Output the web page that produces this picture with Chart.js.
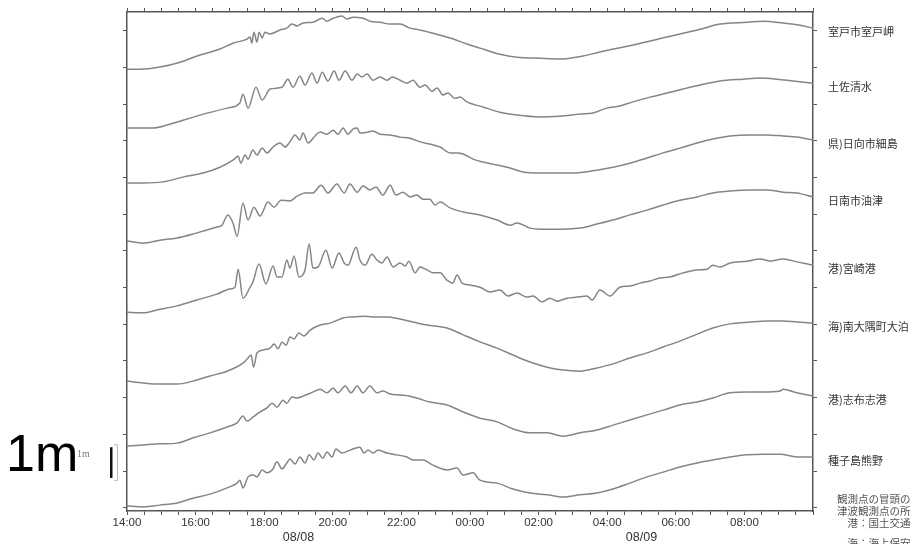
<!DOCTYPE html>
<html>
<head>
<meta charset="utf-8">
<script src="https://cdn.jsdelivr.net/npm/chart.js@4.4.1/dist/chart.umd.min.js"></script>
<style>
  html, body { margin: 0; padding: 0; background: #fff; overflow: hidden; }
  canvas { display: block; }
</style>
</head>
<body>
<canvas id="tide" width="910" height="544"></canvas>
<script>
// time = hours after 08/08 14:00, level = metres on the stacked plot (traces offset)
const stationNames = ['室戸市室戸岬', '土佐清水', '県)日向市細島', '日南市油津', '港)宮崎港', '海)南大隅町大泊', '港)志布志港', '種子島熊野'];
const timeLabels = ['14:00', '16:00', '18:00', '20:00', '22:00', '00:00', '02:00', '04:00', '06:00', '08:00'];
const dayLabels = ['08/08', '08/09'];
const dayBounds = [0, 10, 20];
const notes = ['観測点の冒頭の記号は', '津波観測点の所属機関', '　港：国土交通省港湾局', '　海：海上保安庁'];

const muroto = [[0,11.95],[0.38,11.95],[0.96,12.01],[1.55,12.14],[2.13,12.34],[2.71,12.50],[3.09,12.66],[3.50,12.77],[3.59,12.83],[3.64,12.66],[3.70,12.96],[3.79,12.69],[3.85,12.96],[3.94,12.80],[4.02,12.96],[4.17,12.91],[4.46,13.02],[4.66,13.07],[4.81,13.18],[4.96,13.13],[5.13,13.21],[5.42,13.23],[5.69,13.34],[5.83,13.26],[6.01,13.34],[6.27,13.40],[6.41,13.32],[6.59,13.37],[6.88,13.34],[7.08,13.26],[7.38,13.23],[7.67,13.18],[7.96,13.18],[8.25,13.07],[8.54,13.02],[8.92,12.93],[9.42,12.80],[9.91,12.64],[10.38,12.50],[10.87,12.36],[11.37,12.28],[12.04,12.25],[12.62,12.23],[13.29,12.31],[13.79,12.42],[14.75,12.61],[15.74,12.83],[16.71,13.04],[17.29,13.18],[18.08,13.23],[18.54,13.26],[19.13,13.21],[19.62,13.15],[20,13.07]];
const tosashimizu = [[0,10.35],[0.76,10.35],[1.17,10.43],[2.13,10.70],[2.92,10.89],[3.29,11.03],[3.38,11.27],[3.53,10.89],[3.76,11.46],[3.94,11.11],[4.17,11.41],[4.52,11.46],[4.69,11.68],[4.84,11.46],[5.04,11.76],[5.19,11.52],[5.39,11.85],[5.54,11.57],[5.69,11.87],[5.86,11.63],[6.04,11.90],[6.18,11.65],[6.36,11.90],[6.56,11.65],[6.71,11.82],[6.85,11.74],[7.00,11.82],[7.17,11.65],[7.38,11.74],[7.58,11.65],[7.73,11.74],[7.96,11.65],[8.16,11.57],[8.34,11.65],[8.54,11.46],[8.69,11.52],[8.89,11.35],[9.04,11.44],[9.21,11.25],[9.36,11.30],[9.56,11.16],[9.71,11.19],[9.91,11.06],[10.38,10.92],[10.87,10.78],[11.37,10.70],[12.04,10.65],[12.62,10.67],[13.21,10.73],[13.59,10.76],[13.99,10.89],[14.37,10.95],[14.75,11.06],[15.25,11.19],[15.74,11.30],[16.21,11.41],[16.71,11.52],[17.29,11.63],[17.96,11.68],[18.46,11.71],[18.95,11.68],[19.42,11.63],[20,11.57]];
const hososhima = [[0,8.85],[0.47,8.85],[1.05,8.88],[1.63,9.01],[2.22,9.12],[2.71,9.28],[3.09,9.47],[3.24,9.58],[3.32,9.39],[3.44,9.61],[3.53,9.50],[3.67,9.75],[3.79,9.61],[3.94,9.80],[4.08,9.67],[4.26,9.83],[4.46,9.94],[4.61,9.83],[4.75,9.97],[4.90,10.16],[5.04,10.02],[5.13,10.21],[5.28,9.94],[5.48,10.13],[5.63,10.24],[5.83,10.18],[6.01,10.29],[6.15,10.18],[6.30,10.35],[6.44,10.18],[6.59,10.32],[6.71,10.35],[6.79,10.21],[7.03,10.24],[7.17,10.27],[7.38,10.18],[7.67,10.16],[7.96,10.10],[8.25,10.07],[8.54,9.97],[8.83,9.91],[9.13,9.83],[9.42,9.67],[9.62,9.67],[9.80,9.64],[10.09,9.50],[10.38,9.42],[10.79,9.34],[11.17,9.26],[11.55,9.15],[12.04,9.12],[12.54,9.12],[13.00,9.12],[13.70,9.20],[14.17,9.28],[14.66,9.39],[15.16,9.53],[15.63,9.67],[16.12,9.80],[16.62,9.94],[17.08,10.05],[17.58,10.13],[18.16,10.16],[18.66,10.16],[19.13,10.13],[19.53,10.10],[20,10.02]];
const aburatsu = [[0,7.27],[0.47,7.21],[0.96,7.29],[1.46,7.35],[2.04,7.49],[2.62,7.65],[2.77,7.70],[2.94,7.98],[3.09,7.76],[3.21,7.40],[3.38,8.30],[3.53,7.84],[3.70,8.19],[3.88,7.95],[4.11,8.33],[4.29,8.19],[4.49,8.38],[4.75,8.36],[4.96,8.49],[5.19,8.58],[5.42,8.58],[5.66,8.79],[5.86,8.58],[6.12,8.82],[6.33,8.58],[6.50,8.82],[6.71,8.60],[6.88,8.77],[7.08,8.66],[7.26,8.74],[7.46,8.52],[7.67,8.79],[7.84,8.52],[8.05,8.60],[8.25,8.47],[8.45,8.52],[8.63,8.41],[8.83,8.41],[8.98,8.25],[9.13,8.33],[9.42,8.17],[9.80,8.06],[10.29,7.98],[10.79,7.84],[11.17,7.70],[11.37,7.76],[11.75,7.62],[12.04,7.59],[12.71,7.59],[13.21,7.62],[13.70,7.73],[14.17,7.84],[14.66,7.98],[15.16,8.11],[15.63,8.25],[16.12,8.38],[16.62,8.47],[17.08,8.58],[17.58,8.63],[18.16,8.66],[18.66,8.66],[19.13,8.60],[19.53,8.58],[20,8.47]];
const miyazaki = [[0,5.33],[0.47,5.31],[0.87,5.39],[1.46,5.50],[2.04,5.66],[2.62,5.82],[3.00,5.96],[3.15,6.01],[3.24,6.50],[3.38,5.71],[3.59,6.01],[3.67,6.15],[3.85,6.64],[4.05,6.10],[4.26,6.59],[4.37,6.29],[4.52,6.29],[4.66,6.75],[4.75,6.53],[4.87,6.86],[5.01,6.29],[5.19,6.48],[5.31,7.19],[5.42,6.53],[5.57,6.56],[5.80,7.02],[5.98,6.53],[6.18,6.94],[6.33,6.67],[6.44,6.61],[6.68,7.10],[6.79,6.75],[6.94,6.61],[7.14,6.91],[7.29,6.75],[7.43,6.67],[7.58,6.83],[7.76,6.56],[7.96,6.67],[8.11,6.59],[8.22,6.72],[8.40,6.40],[8.54,6.56],[8.75,6.48],[8.92,6.40],[9.13,6.40],[9.33,6.20],[9.50,6.12],[9.62,6.34],[9.77,6.12],[10.00,6.07],[10.29,6.01],[10.58,5.88],[10.87,5.93],[11.11,5.77],[11.37,5.85],[11.66,5.74],[11.84,5.77],[12.10,5.61],[12.33,5.71],[12.54,5.63],[12.83,5.71],[13.12,5.74],[13.41,5.77],[13.56,5.66],[13.79,5.93],[14.08,5.77],[14.37,6.01],[14.66,6.04],[14.96,6.12],[15.25,6.18],[15.54,6.26],[15.83,6.29],[16.21,6.40],[16.62,6.48],[16.91,6.50],[17.08,6.61],[17.29,6.56],[17.58,6.67],[18.08,6.72],[18.46,6.78],[18.75,6.72],[19.13,6.78],[19.53,6.70],[20,6.61]];
const ohtomari = [[0,3.45],[0.47,3.40],[0.96,3.37],[1.46,3.37],[1.92,3.45],[2.42,3.59],[2.92,3.72],[3.38,3.94],[3.53,4.08],[3.62,4.16],[3.69,3.83],[3.79,4.22],[3.97,4.30],[4.17,4.35],[4.29,4.46],[4.40,4.33],[4.52,4.51],[4.64,4.43],[4.75,4.65],[4.87,4.60],[5.01,4.76],[5.16,4.68],[5.34,4.84],[5.63,4.98],[5.92,5.03],[6.30,5.17],[6.59,5.20],[6.88,5.22],[7.17,5.20],[7.58,5.20],[7.96,5.14],[8.34,5.06],[8.75,4.98],[9.33,4.90],[9.80,4.71],[10.29,4.52],[10.79,4.35],[11.25,4.16],[11.75,3.97],[12.25,3.83],[12.71,3.75],[13.21,3.72],[13.70,3.81],[14.17,3.92],[14.66,4.08],[15.16,4.22],[15.63,4.38],[16.12,4.54],[16.62,4.73],[17.08,4.90],[17.58,5.01],[18.16,5.06],[18.66,5.09],[19.13,5.09],[19.53,5.06],[20,5.03]];
const shibushi = [[0,1.68],[0.47,1.71],[0.96,1.74],[1.46,1.76],[1.92,1.90],[2.42,2.04],[2.92,2.20],[3.21,2.31],[3.38,2.50],[3.50,2.36],[3.67,2.47],[3.88,2.61],[4.08,2.72],[4.23,2.85],[4.37,2.74],[4.55,2.93],[4.66,2.85],[4.81,3.02],[4.96,2.99],[5.13,3.04],[5.42,3.15],[5.63,3.23],[5.83,3.13],[6.01,3.26],[6.15,3.13],[6.36,3.32],[6.53,3.13],[6.71,3.32],[6.88,3.13],[7.08,3.32],[7.29,3.13],[7.46,3.18],[7.67,3.10],[7.96,3.07],[8.25,3.04],[8.54,2.96],[8.83,2.88],[9.33,2.80],[9.80,2.61],[10.29,2.44],[10.79,2.34],[11.25,2.15],[11.75,2.04],[12.25,2.04],[12.71,1.95],[13.21,2.04],[13.70,2.12],[14.17,2.25],[14.66,2.39],[15.16,2.53],[15.63,2.66],[16.12,2.80],[16.62,2.88],[17.08,2.99],[17.58,3.13],[18.08,3.15],[18.54,3.15],[19.04,3.18],[19.13,3.23],[19.53,3.13],[20,3.04]];
const kumano = [[0,0.05],[0.47,0.02],[0.96,0.07],[1.46,0.13],[1.92,0.26],[2.42,0.37],[2.92,0.54],[3.21,0.67],[3.29,0.75],[3.38,0.54],[3.53,0.84],[3.67,0.89],[3.79,0.84],[3.94,1.03],[4.08,0.95],[4.26,1.06],[4.37,1.25],[4.52,1.06],[4.66,1.22],[4.75,1.33],[4.90,1.19],[5.04,1.38],[5.19,1.22],[5.31,1.44],[5.45,1.30],[5.57,1.49],[5.71,1.35],[5.83,1.52],[5.98,1.38],[6.09,1.60],[6.27,1.49],[6.50,1.57],[6.79,1.65],[6.91,1.49],[7.03,1.57],[7.17,1.49],[7.32,1.57],[7.58,1.49],[7.87,1.44],[8.16,1.38],[8.34,1.30],[8.63,1.30],[8.92,1.16],[9.33,1.03],[9.62,1.08],[9.80,0.89],[10.09,0.95],[10.29,0.75],[10.79,0.67],[11.25,0.51],[11.75,0.40],[12.25,0.35],[12.71,0.29],[13.21,0.35],[13.70,0.40],[14.17,0.51],[14.66,0.67],[15.16,0.84],[15.63,0.97],[16.12,1.11],[16.62,1.22],[17.08,1.30],[17.58,1.38],[18.08,1.44],[18.54,1.46],[19.04,1.46],[19.53,1.38],[20,1.38]];

const series = [muroto, tosashimizu, hososhima, aburatsu, miyazaki, ohtomari, shibushi, kumano];

Chart.defaults.font.family = '"Liberation Sans", Arial, sans-serif';

const axisColor = '#555';
const edge = { drawOnChartArea: false, drawTicks: true, tickLength: 4, tickColor: axisColor, tickWidth: 1 };
const frameBorder = { display: true, color: axisColor, width: 1.5 };

// station names, dates, scale bar and notes
const decor = {
    id: 'decor',
    afterDraw(chart) {
        const { ctx, chartArea: area, scales: { x, y } } = chart;
        ctx.save();
        ctx.fillStyle = '#333';
        ctx.textAlign = 'left';
        ctx.textBaseline = 'middle';
        ctx.font = '11px "Noto Sans CJK JP"';
        series.forEach((s, i) => {
            ctx.fillText(stationNames[i], area.right + 15, y.getPixelForValue(s[s.length - 1][1]) + 4);
        });

        ctx.textAlign = 'center';
        ctx.font = '12.5px "Liberation Sans"';
        dayLabels.forEach((d, i) => {
            ctx.fillText(d, x.getPixelForValue((dayBounds[i] + dayBounds[i + 1]) / 2), area.bottom + 27);
        });

        ctx.textAlign = 'left';
        ctx.textBaseline = 'alphabetic';
        ctx.fillStyle = '#000';
        ctx.font = '52px "Liberation Sans"';
        ctx.fillText('1m', 6, 471);
        ctx.fillStyle = '#777';
        ctx.font = '10px "Liberation Serif"';
        ctx.fillText('1m', 77, 457);

        const top = y.getPixelForValue(1.73), bot = y.getPixelForValue(0.73);
        ctx.strokeStyle = '#bbb';
        ctx.lineWidth = 1;
        ctx.beginPath();
        ctx.moveTo(114, top + 0.5); ctx.lineTo(117.5, top + 0.5);
        ctx.lineTo(117.5, bot - 0.5); ctx.lineTo(114, bot - 0.5);
        ctx.stroke();
        ctx.fillStyle = '#111';
        ctx.fillRect(110, top + 3, 2.5, bot - top - 6);

        ctx.fillStyle = '#555';
        ctx.textBaseline = 'middle';
        ctx.font = '10.5px "Noto Sans CJK JP"';
        [499, 511, 523, 543].forEach((py, i) => ctx.fillText(notes[i], 837, py));
        ctx.restore();
    }
};

new Chart(document.getElementById('tide'), {
    type: 'line',
    data: {
        datasets: series.map((s, i) => ({
            label: stationNames[i],
            data: s.map(([t, v]) => ({ x: t, y: v })),
            borderColor: '#858585',
            borderWidth: 1.5,
            pointRadius: 0,
            cubicInterpolationMode: 'monotone',
            fill: false
        }))
    },
    options: {
        responsive: false,
        animation: false,
        devicePixelRatio: 1,
        layout: { padding: 0 },
        plugins: { legend: { display: false }, tooltip: { enabled: false } },
        scales: {
            x: {
                type: 'linear', position: 'bottom', min: 0, max: 20,
                afterFit: s => { s.height = 33; },
                ticks: {
                    stepSize: 0.5, autoSkip: false, maxRotation: 0, padding: 1, color: '#333',
                    font: { size: 11.5 },
                    callback: v => (v % 2 === 0 ? (timeLabels[v / 2] ?? '') : '')
                },
                grid: edge, border: frameBorder
            },
            xTop: {
                type: 'linear', position: 'top', min: 0, max: 20,
                afterFit: s => { s.height = 12; },
                ticks: { stepSize: 0.5, autoSkip: false, maxRotation: 0, callback: () => '' },
                grid: edge, border: frameBorder
            },
            y: {
                type: 'linear', position: 'left', min: -0.09, max: 13.51,
                afterFit: s => { s.width = 127; },
                ticks: { stepSize: 1, includeBounds: false, callback: () => '' },
                grid: edge, border: frameBorder
            },
            yRight: {
                type: 'linear', position: 'right', min: -0.09, max: 13.51,
                afterFit: s => { s.width = 97; },
                ticks: { stepSize: 1, includeBounds: false, callback: () => '' },
                grid: edge, border: frameBorder
            }
        }
    },
    plugins: [decor]
});
</script>
</body>
</html>
